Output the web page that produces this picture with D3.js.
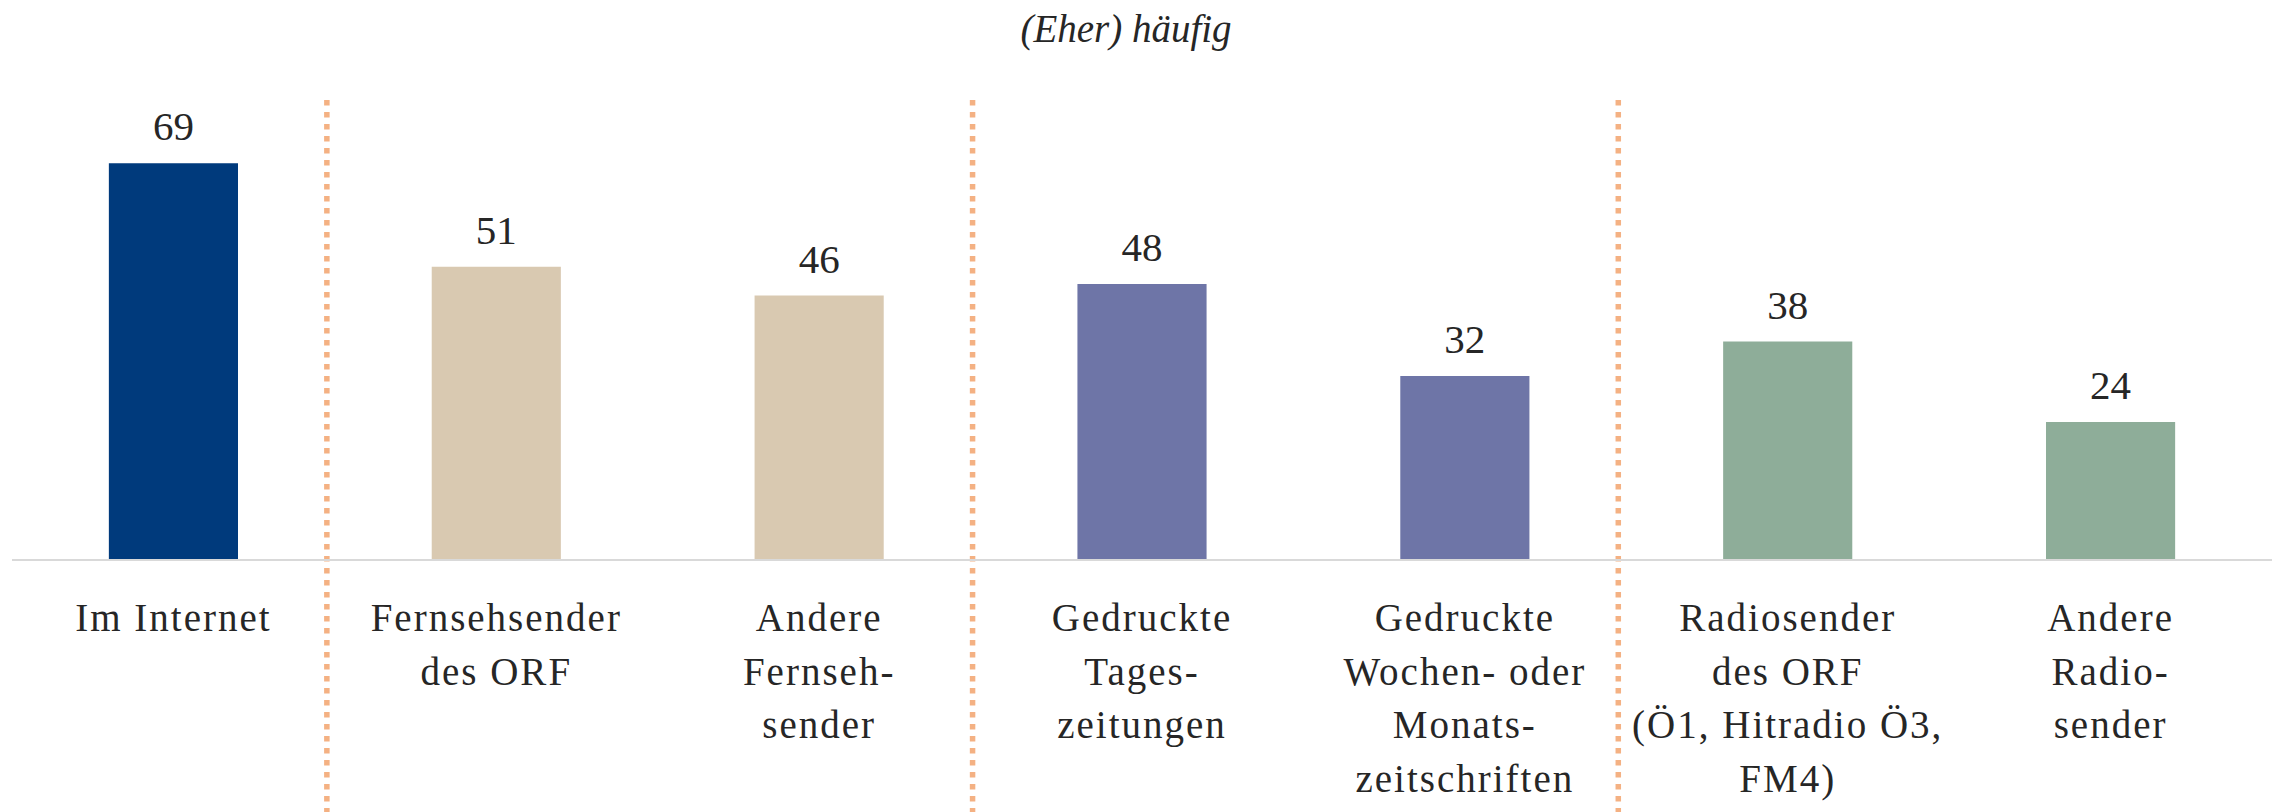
<!DOCTYPE html>
<html>
<head>
<meta charset="utf-8">
<script src="https://cdn.jsdelivr.net/npm/d3@7"></script>
<style>
  body { margin: 0; background: #fff; }
  text { font-family: "Liberation Serif", "DejaVu Serif", serif; fill: #262626; }
</style>
</head>
<body>
<svg id="drawing_region"></svg>
<script>
// chart data
const categories = [
    ["Im Internet"],
    ["Fernsehsender", "des ORF"],
    ["Andere", "Fernseh-", "sender"],
    ["Gedruckte", "Tages-", "zeitungen"],
    ["Gedruckte", "Wochen- oder", "Monats-", "zeitschriften"],
    ["Radiosender", "des ORF", "(Ö1, Hitradio Ö3,", "FM4)"],
    ["Andere", "Radio-", "sender"]
];
const values = [69, 51, 46, 48, 32, 38, 24];
const groups = ["internet", "tv", "tv", "print", "print", "radio", "radio"];
const groupNames = ["internet", "tv", "print", "radio"];
const groupColors = ["#003A7C", "#D9C9B1", "#6E75A7", "#8EAD99"];
const title = "(Eher) häufig";

const config = {
    width: 2285,
    height: 812,
    left: 12,
    right: 2272,
    top: 100,
    baseline: 560
};

const data = categories.map((c, i) => ({
    key: c.join(" "),
    lines: c,
    value: values[i],
    group: groups[i]
}));

const svg = d3.select("#drawing_region")
    .attr("width", config.width)
    .attr("height", config.height);

const xscale = d3.scaleBand()
    .domain(data.map(d => d.key))
    .range([config.left, config.right])
    .paddingInner(0.6)
    .paddingOuter(0.3);

const yscale = d3.scaleLinear()
    .domain([0, 80])
    .range([config.baseline, config.top]);

const color = d3.scaleOrdinal()
    .domain(groupNames)
    .range(groupColors);

// dotted separators between groups
const seps = [];
for (let i = 0; i < data.length - 1; i++) {
    if (data[i].group != data[i + 1].group) {
        const a = xscale(data[i].key) + xscale.bandwidth();
        const b = xscale(data[i + 1].key);
        seps.push((a + b) / 2 - 8);
    }
}
svg.selectAll(".sep")
    .data(seps)
    .join("line")
    .attr("class", "sep")
    .attr("x1", d => d).attr("x2", d => d)
    .attr("y1", yscale(80))
    .attr("y2", config.height)
    .attr("stroke", "#F4B183")
    .attr("stroke-width", 5.5)
    .attr("stroke-dasharray", "5.5,6.5");

// bars
svg.selectAll(".bar")
    .data(data)
    .join("rect")
    .attr("class", "bar")
    .attr("x", d => xscale(d.key))
    .attr("y", d => yscale(d.value))
    .attr("width", xscale.bandwidth())
    .attr("height", d => yscale(0) - yscale(d.value))
    .attr("fill", d => color(d.group));

// base line
svg.append("line")
    .attr("x1", config.left).attr("x2", config.right)
    .attr("y1", yscale(0)).attr("y2", yscale(0))
    .attr("stroke", "#D9D9D9")
    .attr("stroke-width", 2);

// value labels
svg.selectAll(".val")
    .data(data)
    .join("text")
    .attr("class", "val")
    .attr("x", d => xscale(d.key) + xscale.bandwidth() / 2)
    .attr("y", d => yscale(d.value) - 23)
    .attr("text-anchor", "middle")
    .style("font-size", "41px")
    .text(d => d.value);

// category labels
const cat = svg.selectAll(".cat")
    .data(data)
    .join("text")
    .attr("class", "cat")
    .attr("text-anchor", "middle")
    .style("font-size", "39px")
    .style("letter-spacing", "2px");

cat.selectAll("tspan")
    .data(d => d.lines.map(l => ({ l: l, x: xscale(d.key) + xscale.bandwidth() / 2 })))
    .join("tspan")
    .attr("x", d => d.x)
    .attr("y", (d, i) => 631 + i * 53.5)
    .text(d => d.l);

// title
svg.append("text")
    .attr("x", 1126)
    .attr("y", 42)
    .attr("text-anchor", "middle")
    .style("font-size", "39px")
    .style("font-style", "italic")
    .text(title);
</script>
</body>
</html>
